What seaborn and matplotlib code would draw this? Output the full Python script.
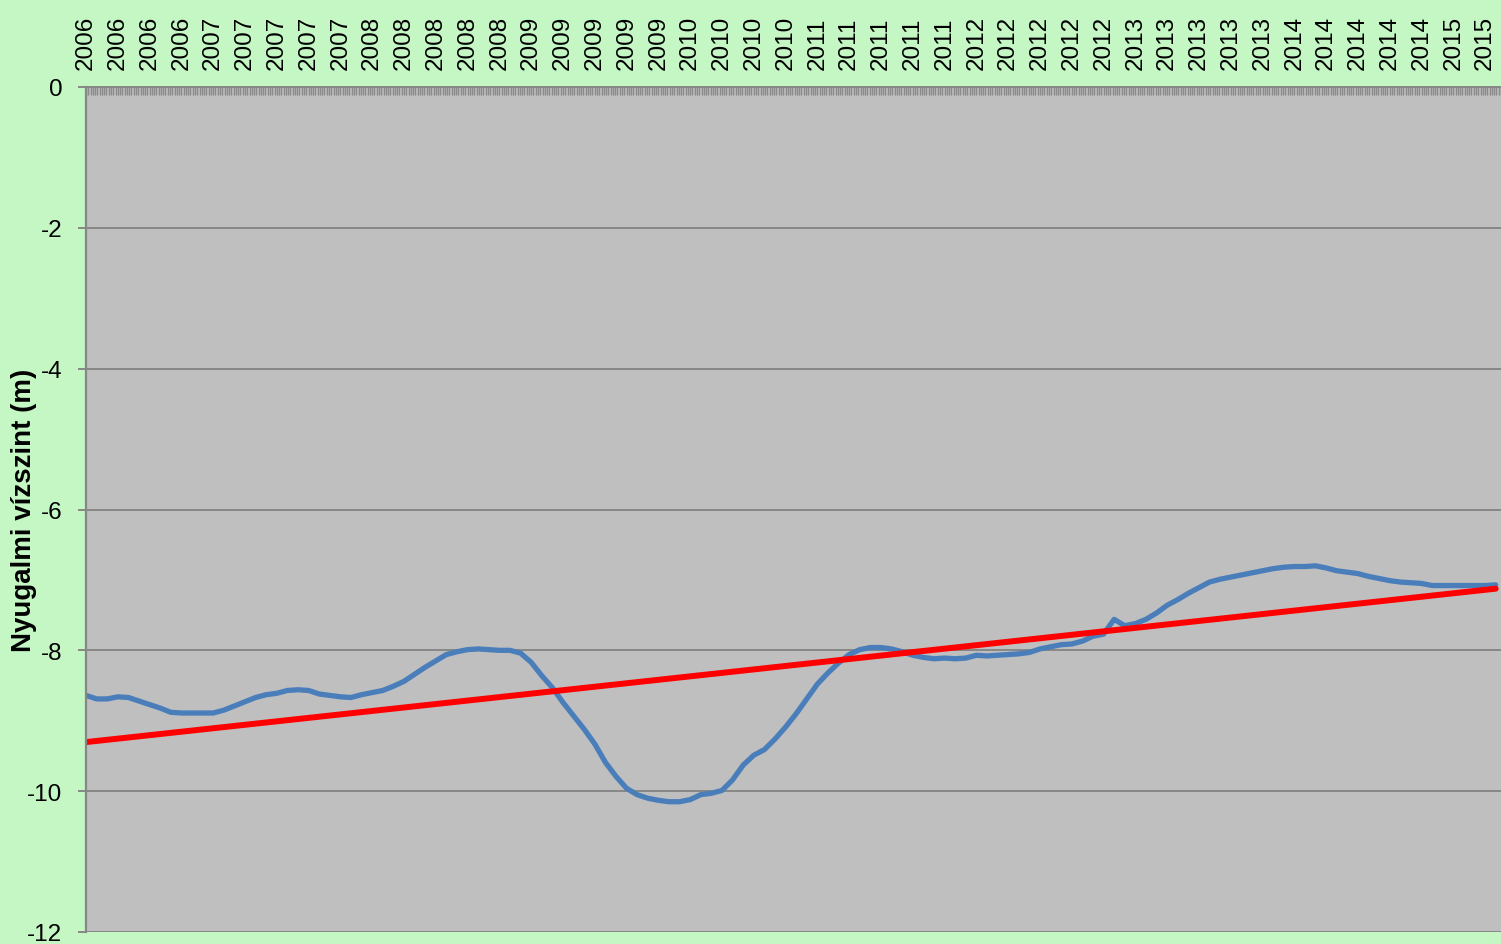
import matplotlib
matplotlib.use("Agg")
import matplotlib.pyplot as plt
import numpy as np
import pandas as pd
import seaborn as sns
from matplotlib.ticker import MultipleLocator

# water level readings, one value per third of a label step
levels = [
    -8.64, -8.69, -8.69, -8.66, -8.67, -8.72, -8.77, -8.82, -8.88, -8.89,
    -8.89, -8.89, -8.89, -8.85, -8.79, -8.73, -8.67, -8.63, -8.61, -8.57,
    -8.56, -8.57, -8.62, -8.64, -8.66, -8.67, -8.63, -8.60, -8.57, -8.51,
    -8.44, -8.34, -8.24, -8.15, -8.06, -8.02, -7.99, -7.98, -7.99, -8.00,
    -8.00, -8.04, -8.17, -8.36, -8.53, -8.74, -8.93, -9.12, -9.33, -9.59,
    -9.79, -9.96, -10.05, -10.10, -10.13, -10.15, -10.15, -10.12, -10.05, -10.03,
    -9.99, -9.84, -9.63, -9.49, -9.41, -9.26, -9.09, -8.90, -8.69, -8.48,
    -8.32, -8.18, -8.06, -7.99, -7.96, -7.96, -7.98, -8.02, -8.07, -8.10,
    -8.12, -8.11, -8.12, -8.11, -8.07, -8.08, -8.07, -8.06, -8.05, -8.03,
    -7.98, -7.95, -7.92, -7.91, -7.87, -7.80, -7.77, -7.56, -7.65, -7.62,
    -7.56, -7.47, -7.36, -7.28, -7.19, -7.11, -7.03, -6.99, -6.96, -6.93,
    -6.90, -6.87, -6.84, -6.82, -6.81, -6.81, -6.80, -6.83, -6.87, -6.89,
    -6.91, -6.95, -6.98, -7.01, -7.03, -7.04, -7.05, -7.08, -7.08, -7.08,
    -7.08, -7.08, -7.08, -7.07,
]

year_labels = (
    ["2006"] * 4 + ["2007"] * 5 + ["2008"] * 5 + ["2009"] * 5 + ["2010"] * 4
    + ["2011"] * 5 + ["2012"] * 5 + ["2013"] * 5 + ["2014"] * 5 + ["2015"] * 2
)

df = pd.DataFrame({"pos": np.arange(len(levels)), "level": levels})

sns.set_style("white", {
    "axes.facecolor": "#BFBFBF",
    "figure.facecolor": "#C4F7C4",
    "text.color": "black",
    "axes.labelcolor": "black",
    "xtick.color": "black",
    "ytick.color": "black",
})
plt.rcParams["font.family"] = ["Liberation Sans", "DejaVu Sans"]
plt.rcParams["axes.unicode_minus"] = False

fig = plt.figure(figsize=(15.01, 9.45), dpi=100)
ax = fig.add_axes([86 / 1501, 12 / 945, 1415 / 1501, 845 / 945])

ax.yaxis.grid(True, color="#878787", linewidth=1.4)
ax.set_axisbelow(True)

sns.lineplot(data=df, x="pos", y="level", ax=ax, color="#4A7EBB", linewidth=3.8)
sns.regplot(data=df, x="pos", y="level", ax=ax, scatter=False, ci=None,
            color="#FF0000", line_kws={"linewidth": 4.3})

ax.set_ylim(-12, 0)
ax.set_xlim(0, 133.5)
ax.set_yticks(range(-12, 1, 2))

ax.xaxis.tick_top()
ax.set_xticks(np.arange(len(year_labels)) * 3)
ax.set_xticklabels(year_labels, rotation=90, fontsize=17.5)
ax.xaxis.set_minor_locator(MultipleLocator(3 / 14))
ax.tick_params(axis="x", which="both", top=True, bottom=False, direction="in",
               length=5.5, width=1.0, color="#8A8A8A", labelcolor="black", pad=13)
ax.tick_params(axis="y", which="major", left=True, direction="out",
               length=6, width=1.4, color="#878787", labelcolor="black",
               labelsize=17.5, pad=11)

for side in ["right", "bottom"]:
    ax.spines[side].set_visible(False)
ax.spines["left"].set_color("#878787")
ax.spines["left"].set_linewidth(1.6)
ax.spines["top"].set_color("#878787")
ax.spines["top"].set_linewidth(1.4)

ax.set_xlabel("")
ax.set_ylabel("Nyugalmi vízszint (m)", fontsize=20, fontweight="bold", color="black")
ax.yaxis.set_label_coords(-0.0346, 0.5)

fig.savefig("out.png", dpi=100, facecolor=fig.get_facecolor())
